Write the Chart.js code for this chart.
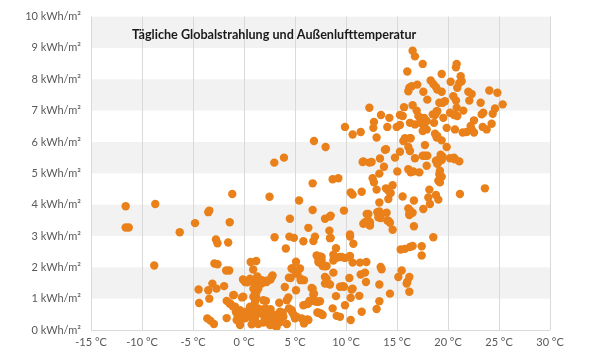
<!DOCTYPE html>
<html><head><meta charset="utf-8">
<script src="https://cdn.jsdelivr.net/npm/chart.js@4/dist/chart.umd.min.js"></script>
<style>html,body{margin:0;padding:0;background:#fff}canvas{display:block}</style>
</head><body>
<canvas id="c" width="600" height="356"></canvas>
<script>
const chartTitle = 'Tägliche Globalstrahlung und Außenlufttemperatur';
const xTickValues = [-15,-10,-5,0,5,10,15,20,25,30];
const yTickValues = [0,1,2,3,4,5,6,7,8,9,10];
const xUnit = ' °C';
const yUnit = ' kWh/m²';
const shadedBands = [[1,2],[3,4],[5,6],[7,8],[9,10]];

const temperature = [
-11.6,-11.6,-11.3,-8.7,-8.8,-6.3,-4.8,-3.4,-3.5,-1.15,-1.4,-2.75,-2.6,-1.55,-2.9,-2.6,-1.75,-1.45,-4.45,-3.1,-3.5,-2.7,-1.95,-3.4,-4.4,-1.0,-1.7,-1.4,-1.1,-3.6,-3.3,-2.95,-1.7,-0.7,-0.55,
5.4,2.5,4.5,4.45,4.9,3.0,4.1,5.1,4.7,4.4,5.1,4.0,5.1,4.35,4.2,3.45,2.6,4.4,4.7,3.8,5.0,4.2,
0.65,1.2,0.9,1.3,1.75,2.2,2.6,2.8,-0.1,0.3,0.5,1.1,1.2,1.1,1.2,-1.05,-0.2,1.9,2.15,0.9,1.4,2.2,-0.8,-0.4,0.1,0.4,0.75,-0.6,-0.1,0.3,-0.4,1.4,2.05,2.55,3.05,3.15,3.2,2.9,3.5,3.6,
5.82,6.96,8.43,10.4,9.02,10.72,7.29,7.61,7.38,7.71,8.1,8.82,8.76,9.41,9.9,10.39,10.65,11.37,12.0,4.67,5.0,5.49,5.23,5.56,5.88,4.57,8.76,8.1,7.94,8.43,10.33,11.44,11.86,11.96,10.65,9.41,9.8,6.63,6.8,7.29,9.02,10.46,11.3,5.82,6.31,6.47,6.96,7.45,8.69,9.9,11.54,4.67,4.84,7.19,7.61,9.08,9.41,10.46,6.31,5.65,5.16,
-0.07,-1.37,-0.88,-0.39,0.26,0.59,1.08,0.92,1.24,2.06,2.55,2.88,2.22,1.9,1.4,1.08,0.59,0.1,-0.39,-0.72,-0.39,0.75,1.9,2.55,3.04,3.86,3.53,0.59,0.1,1.24,1.73,2.22,2.71,0.92,1.4,1.08,
6.86,8.0,2.97,3.92,6.73,8.69,9.25,10.65,11.44,11.7,12.29,10.46,10.65,11.54,6.73,7.94,8.43,9.8,12.03,11.86,12.19,6.31,8.37,
16.53,16.76,17.52,16.01,20.85,20.78,19.38,21.24,21.34,21.11,20.26,20.91,18.3,18.56,18.82,18.95,19.38,16.21,16.44,16.99,16.11,17.58,17.97,21.99,22.32,24.05,24.84,20.52,20.78,22.09,23.2,25.36,19.15,19.48,19.7,18.89,18.73,20.85,21.5,20.2,20.59,20.91,24.61,24.38,23.46,23.3,19.54,22.55,24.28,23.4,23.79,22.22,22.32,21.44,21.83,22.55,19.87,20.68,15.69,16.53,16.93,17.09,17.32,17.65,17.91,15.29,15.56,16.27,16.76,17.26,17.65,17.91,17.52,18.63,18.5,18.95,14.97,15.29,14.05,14.25,13.43,12.29,12.74,12.68,9.9,13.0,15.69,16.34,16.11,16.27,17.74,18.73,18.95,19.38,19.87,13.92,17.74,17.97,17.52,16.76,15.29,14.8,13.33,13.72,13.27,15.03,16.11,16.34,16.6,17.19,17.91,18.82,19.05,19.38,19.28,20.2,20.59,21.11,19.15,19.38,
15.78,16.27,
11.63,12.51,13.82,15.62,18.89,19.15,19.47,18.95,20.68,19.21,19.05,19.21,12.61,12.74,13.0,13.92,14.15,14.57,14.38,14.15,13.27,15.55,16.66,18.17,18.07,18.82,19.05,18.23,17.58,16.11,16.27,16.53,16.21,21.17,23.62,12.28,11.7,13.27,13.17,13.98,14.15,14.31,13.4,14.57,16.66,18.56,
15.36,15.78,16.27,16.53,17.42,17.42,13.4,13.49,15.46,15.13,16.21,16.01,15.95,16.21,14.31,13.27,13.27,13.0,
13.07,13.33,14.05,12.19,12.35,12.35,16.21,16.27,10.33,9.67,10.55,8.76,9.15,9.57,7.94,8.27,7.12,7.45,7.61,7.29,7.94,7.29,7.52,7.71,6.41,6.8,7.12,6.73,6.86,6.21,5.56,5.75,5.88,6.21,6.8,8.5,8.5,10.39
];
const radiation = [
3.95,3.27,3.27,4.02,2.06,3.12,3.41,3.81,3.76,4.34,3.44,2.89,2.77,2.79,2.12,2.1,1.9,1.9,1.29,1.48,1.27,1.32,1.4,1.0,0.86,1.12,0.93,0.84,0.76,0.37,0.3,0.19,0.38,0.53,0.32,
4.13,4.25,3.55,2.98,2.94,2.96,2.6,2.18,1.96,1.67,1.8,1.37,1.27,1.04,0.95,0.87,0.66,0.69,0.58,0.55,0.37,0.19,
2.17,2.2,1.93,1.71,1.59,1.57,1.61,1.74,1.61,1.52,1.55,1.52,1.36,1.22,1.04,1.11,1.04,0.95,0.93,0.74,0.69,0.66,0.58,0.53,0.55,0.48,0.53,0.45,0.42,0.48,0.19,0.19,0.37,0.32,0.48,0.32,0.1,0.22,0.25,0.4,
2.83,2.98,2.93,2.98,2.61,2.75,2.28,2.33,2.15,2.04,2.04,2.3,2.4,2.33,2.3,2.36,2.15,2.15,2.17,1.96,1.9,1.96,1.8,1.59,1.59,1.66,1.83,1.64,1.48,1.45,1.66,1.77,1.83,1.53,1.32,1.38,1.38,1.34,1.13,0.9,1.08,1.03,1.09,0.79,0.85,0.92,0.92,0.92,0.69,0.79,0.58,0.64,0.5,0.56,0.5,0.45,0.42,0.32,0.32,0.37,0.42,
1.06,0.85,0.74,0.63,0.58,0.74,0.9,1.06,1.22,0.69,0.58,0.32,0.37,0.48,0.53,0.37,0.42,0.37,0.48,0.32,0.16,0.18,0.24,0.16,0.14,0.42,0.58,1.64,1.53,1.48,1.48,1.53,1.69,1.32,1.32,1.16,
6.03,5.84,5.34,5.5,4.68,4.81,4.84,6.24,6.32,5.38,5.34,4.39,4.32,4.41,3.83,3.55,3.62,3.81,3.7,3.44,3.49,3.26,3.17,
8.91,8.73,8.49,8.25,8.49,8.38,8.17,8.1,7.94,7.88,7.92,7.73,7.96,7.85,7.75,7.67,7.6,7.73,7.78,7.83,7.62,7.6,7.35,7.6,7.53,7.64,7.57,7.46,7.32,7.32,7.25,7.2,7.25,7.25,7.3,6.98,6.86,7.09,7.0,6.93,6.86,6.83,7.07,6.9,6.93,6.88,6.77,6.69,6.58,6.48,6.4,6.51,6.4,6.3,6.32,6.3,6.45,6.4,7.11,7.17,7.0,6.83,6.75,6.77,6.67,6.86,6.83,6.61,6.56,6.61,6.48,6.4,6.35,6.61,6.88,6.98,6.48,6.54,6.48,6.77,6.86,7.09,6.64,6.45,6.48,6.14,6.05,6.12,5.84,5.71,5.9,6.26,6.19,6.05,5.84,5.77,5.56,5.56,5.56,5.48,5.69,5.5,5.47,5.21,4.99,5.06,5.13,5.03,5.06,5.03,5.24,5.4,5.34,5.42,5.59,5.48,5.5,5.38,4.97,4.89,
6.12,6.12,
5.36,5.36,5.75,6.03,6.14,5.45,5.53,5.3,5.45,5.08,4.76,4.71,4.84,4.71,4.48,4.52,4.44,4.62,4.37,4.18,4.07,4.26,4.13,4.48,4.23,4.31,4.16,4.02,3.86,3.88,3.76,3.74,3.67,4.34,4.52,3.35,3.39,3.78,3.6,3.74,3.49,3.42,3.57,3.2,3.31,2.96,
2.57,2.59,2.65,2.68,2.67,2.38,2.01,1.94,1.9,1.69,1.69,1.54,1.48,1.22,1.16,1.45,0.92,0.67,
3.76,3.6,3.49,3.7,3.44,3.33,3.7,3.81,2.33,1.4,1.29,2.22,2.31,2.33,1.69,1.48,2.38,2.35,2.22,2.17,2.03,0.55,0.53,0.48,0.93,0.95,0.9,1.32,1.16,0.83,1.64,0.34,0.21,0.34,2.84,3.65,2.94,3.05
];

const points = temperature.map((t, i) => ({x: t, y: radiation[i]}));
const FONT = 'Lato, "Open Sans", sans-serif';

const bandsPlugin = {
  id: 'bands',
  beforeDraw(chart) {
    const {ctx, chartArea, scales} = chart;
    ctx.save();
    ctx.fillStyle = '#f2f2f2';
    shadedBands.forEach(([a, b]) => {
      const y1 = scales.y.getPixelForValue(b);
      const y2 = scales.y.getPixelForValue(a);
      ctx.fillRect(chartArea.left, y1, chartArea.right - chartArea.left, y2 - y1);
    });
    ctx.restore();
  }
};
const innerTitle = {
  id: 'innerTitle',
  afterDraw(chart) {
    const {ctx, chartArea} = chart;
    ctx.save();
    ctx.font = 'bold 12.6px ' + FONT;
    ctx.fillStyle = '#1a1a1a';
    ctx.textBaseline = 'middle';
    ctx.textAlign = 'left';
    ctx.fillText(chartTitle, chartArea.left + 41, chartArea.top + 18);
    ctx.restore();
  }
};

new Chart(document.getElementById('c'), {
  type: 'scatter',
  data: { datasets: [{
    data: points,
    backgroundColor: '#e9801a',
    borderColor: '#e9801a',
    borderWidth: 0,
    pointRadius: 4.2,
    pointHoverRadius: 4.2
  }]},
  options: {
    responsive: false,
    devicePixelRatio: 1,
    animation: false,
    layout: { padding: { top: 15, right: 50, left: 0, bottom: 0 } },
    plugins: { legend: { display: false }, tooltip: { enabled: false }, title: { display: false } },
    scales: {
      x: {
        type: 'linear', min: -15, max: 30,
        afterBuildTicks: s => { s.ticks = xTickValues.map(v => ({value: v})); },
        afterFit: s => { s.height = 26; },
        grid: { color: '#d9d9d9', lineWidth: 1, drawTicks: false },
        border: { display: false },
        ticks: { callback: v => v + xUnit, color: '#595959', font: { family: FONT, size: 11 }, padding: 6, maxRotation: 0 }
      },
      y: {
        type: 'linear', min: 0, max: 10,
        afterBuildTicks: s => { s.ticks = yTickValues.map(v => ({value: v})); },
        afterFit: s => { s.width = 91; },
        grid: { color: c => (c.tick && c.tick.value === 0) ? '#d9d9d9' : 'rgba(0,0,0,0)', drawTicks: false },
        border: { display: false },
        ticks: { callback: v => v + yUnit, color: '#595959', font: { family: FONT, size: 11 }, padding: 10 }
      }
    }
  },
  plugins: [bandsPlugin, innerTitle]
});
</script>
</body></html>
